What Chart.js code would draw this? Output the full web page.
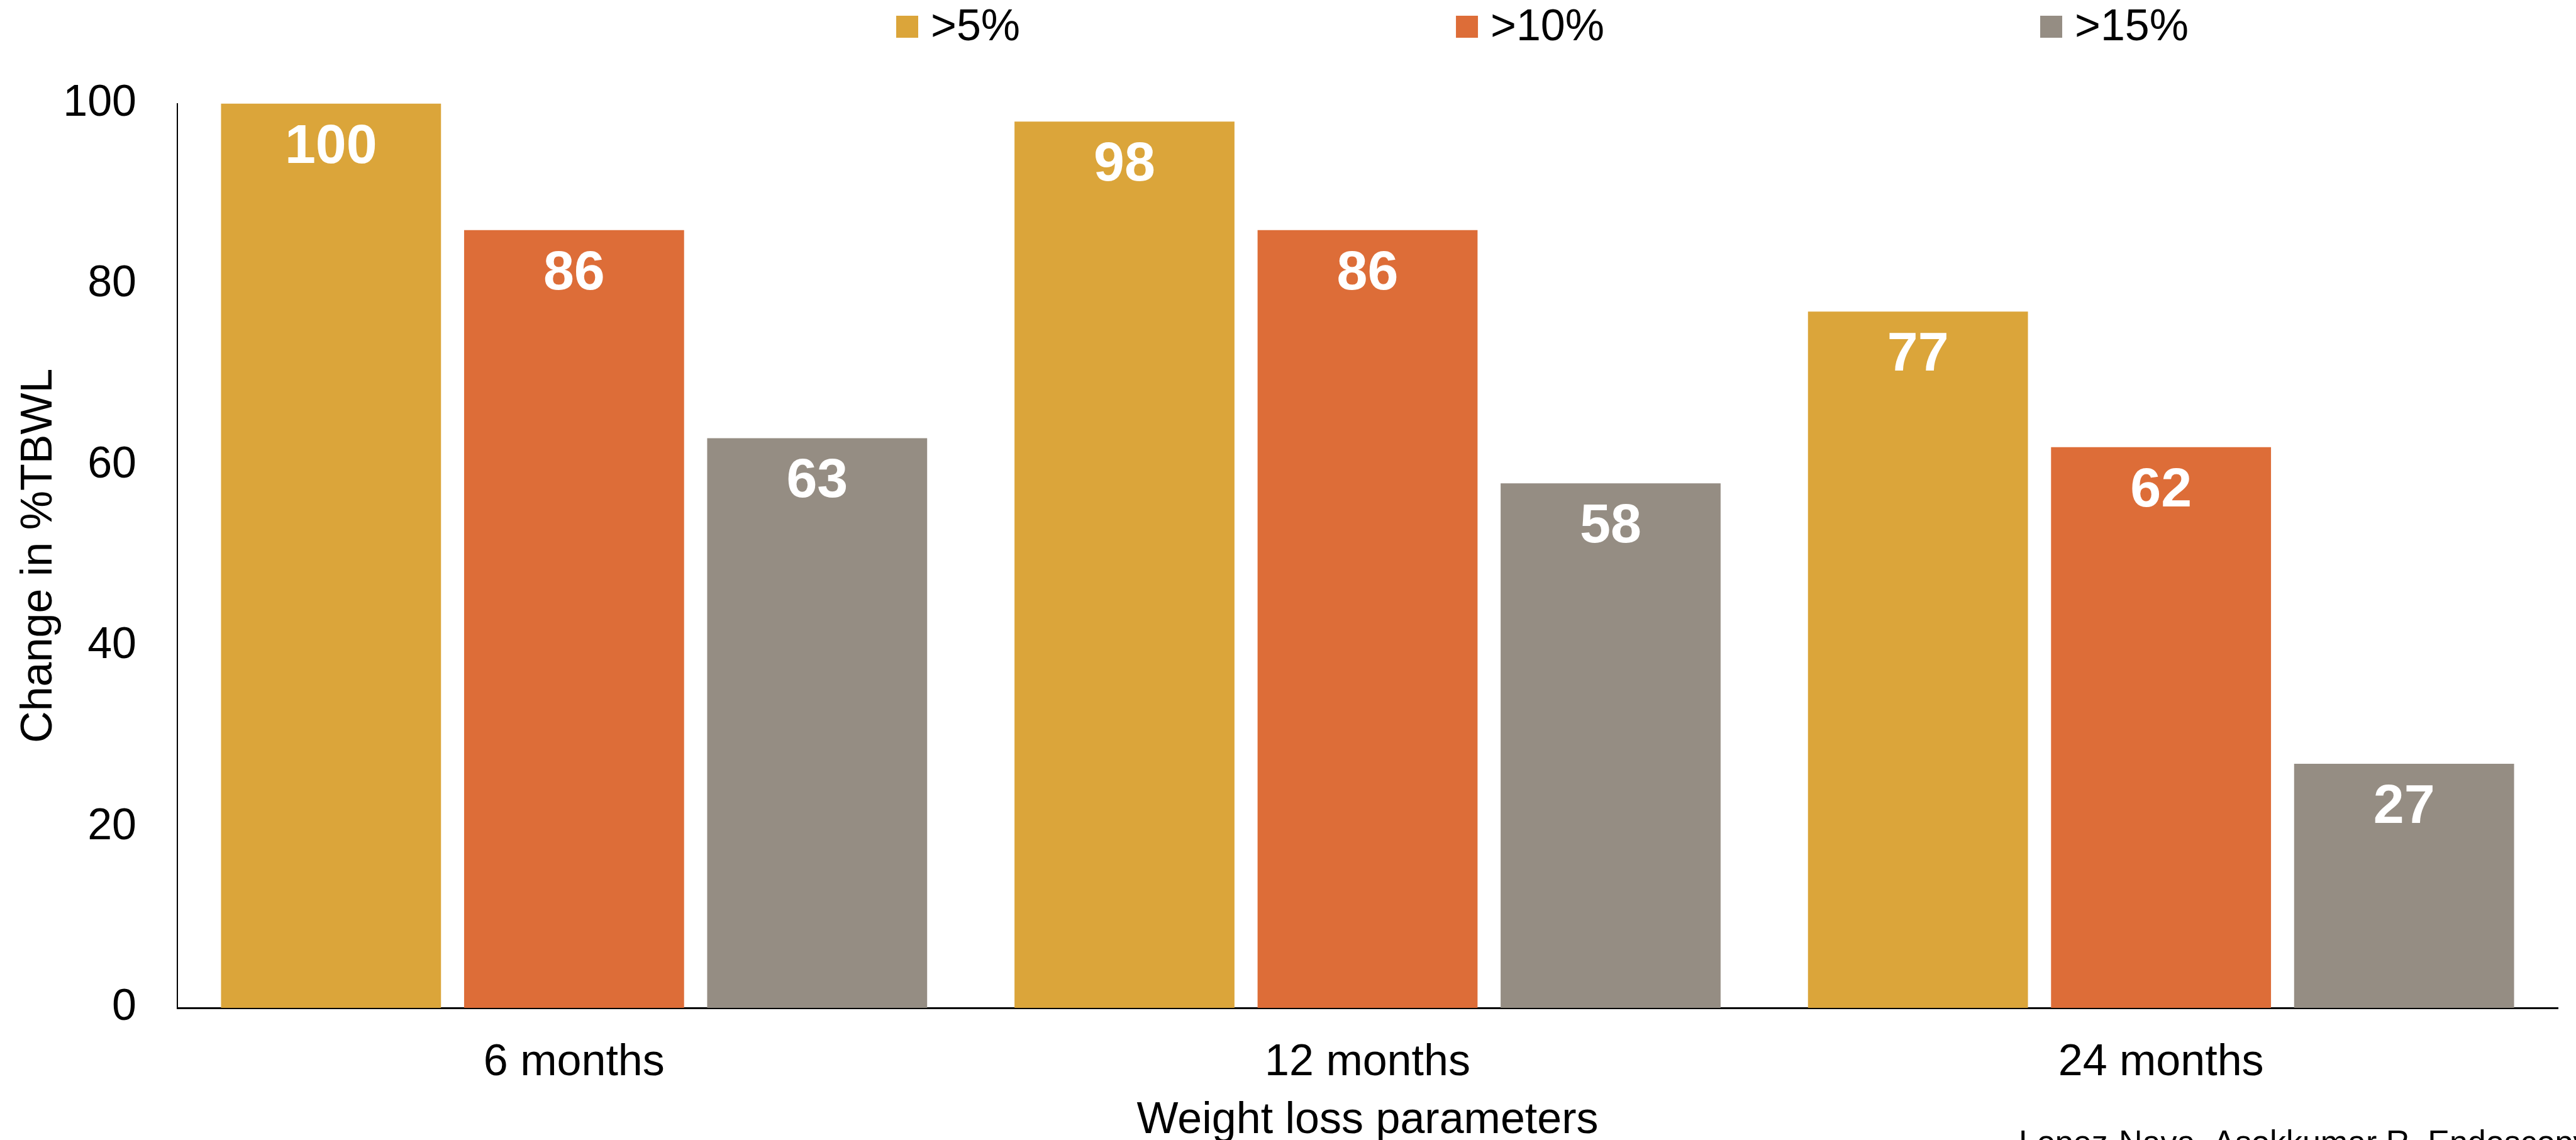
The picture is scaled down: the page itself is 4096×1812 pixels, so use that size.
<!DOCTYPE html>
<html>
<head>
<meta charset="utf-8">
<script src="https://cdn.jsdelivr.net/npm/chart.js@4.4.0/dist/chart.umd.min.js"></script>
<style>
  html, body { margin: 0; padding: 0; background: #fff; }
</style>
</head>
<body>
<canvas id="chart" width="4096" height="1812"></canvas>
<script>
// data
const categories = ["6 months", "12 months", "24 months"];
const seriesNames = [">5%", ">10%", ">15%"];
const over5 = [100, 98, 77];
const over10 = [86, 86, 62];
const over15 = [63, 58, 27];
const yTicks = [0, 20, 40, 60, 80, 100];
const sourceNote = "Lopez-Nava, Asokkumar R. Endoscopy";

const FONT = "'Liberation Sans', Arial, sans-serif";
const colors = ["#DBA53A", "#DD6D38", "#958D83"];

// white value labels inside the top of each bar
const barLabels = {
  id: "barLabels",
  afterDatasetsDraw(chart) {
    const ctx = chart.ctx;
    ctx.save();
    ctx.font = "bold 88px " + FONT;
    ctx.fillStyle = "#fff";
    ctx.textAlign = "center";
    ctx.textBaseline = "alphabetic";
    chart.data.datasets.forEach((ds, i) => {
      chart.getDatasetMeta(i).data.forEach((bar, j) => {
        ctx.fillText(String(ds.data[j]), bar.x, bar.y + 94);
      });
    });
    ctx.restore();
  }
};

// legend across the top, wide gaps between items
const spacedLegend = {
  id: "spacedLegend",
  afterDraw(chart) {
    const ctx = chart.ctx;
    ctx.save();
    ctx.font = "70px " + FONT;
    ctx.textBaseline = "alphabetic";
    ctx.textAlign = "left";
    let x = 1425;
    chart.data.datasets.forEach(ds => {
      ctx.fillStyle = ds.backgroundColor;
      ctx.fillRect(x, 25, 35, 35);
      ctx.fillStyle = "#000";
      ctx.fillText(ds.label, x + 55, 64);
      x += 55 + ctx.measureText(ds.label).width + 693;
    });
    ctx.restore();
  }
};

// citation, cut off by the bottom edge
const sourceText = {
  id: "sourceText",
  afterDraw(chart) {
    const ctx = chart.ctx;
    ctx.save();
    ctx.font = "52px " + FONT;
    ctx.fillStyle = "#000";
    ctx.textAlign = "left";
    ctx.textBaseline = "alphabetic";
    ctx.fillText(sourceNote, 3210, 1833);
    ctx.restore();
  }
};

const chart = new Chart(document.getElementById("chart"), {
  type: "bar",
  data: {
    labels: categories,
    datasets: [over5, over10, over15].map((vals, i) => ({
      label: seriesNames[i],
      data: vals,
      backgroundColor: colors[i],
      borderWidth: 0,
      categoryPercentage: 0.919,
      barPercentage: 0.905
    }))
  },
  options: {
    responsive: false,
    animation: false,
    layout: { padding: { top: 164.5, right: 29, left: 0, bottom: 0 } },
    plugins: {
      legend: { display: false },
      tooltip: { enabled: false }
    },
    scales: {
      x: {
        grid: { display: false, drawTicks: false },
        border: { display: true, color: "#000", width: 3 },
        ticks: { color: "#000", font: { family: FONT, size: 70 }, padding: 46 },
        title: {
          display: true,
          text: "Weight loss parameters",
          color: "#000",
          font: { family: FONT, size: 70, lineHeight: 0.8 },
          padding: { top: 0, bottom: 2 }
        },
        afterFit(scale) { scale.height = 210; }
      },
      y: {
        min: 0,
        max: 100,
        grid: { display: false, drawTicks: false },
        border: { display: true, color: "#000", width: 2 },
        ticks: { color: "#000", font: { family: FONT, size: 70 }, padding: 65 },
        afterBuildTicks(scale) { scale.ticks = yTicks.map(v => ({ value: v })); },
        title: {
          display: true,
          text: "Change in %TBWL",
          color: "#000",
          font: { family: FONT, size: 70, lineHeight: 1 },
          padding: { top: 28, bottom: 0 }
        },
        afterFit(scale) { scale.width = 282; }
      }
    }
  },
  plugins: [barLabels, spacedLegend, sourceText]
});
</script>
</body>
</html>
